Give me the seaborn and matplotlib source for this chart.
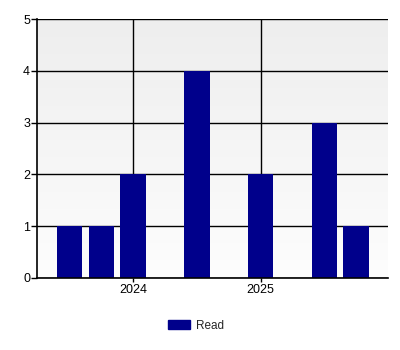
import matplotlib
matplotlib.use("Agg")
import matplotlib.pyplot as plt
import matplotlib.patches as mpatches
from matplotlib.colors import LinearSegmentedColormap
import numpy as np
import pandas as pd
import seaborn as sns

# Data (quarterly positions in fractional years)
periods = [2023.5, 2023.75, 2024.0, 2024.5, 2025.0, 2025.5, 2025.75]
read_counts = [1, 1, 2, 4, 2, 3, 1]
series_name = "Read"
x_ticks = [2024, 2025]
x_tick_labels = ["2024", "2025"]
y_ticks = [0, 1, 2, 3, 4, 5]

sns.set_theme(style="white")
plt.rcParams['font.family'] = ['Liberation Sans', 'DejaVu Sans']

df = pd.DataFrame({"period": periods, "count": read_counts})

fig = plt.figure(figsize=(4.0, 3.5), dpi=100)
ax = fig.add_axes([37/400, 1 - 278/350, (388-37)/400, (278-19)/350])

xlim = (2023.245, 2026.0)
ylim = (0, 5)

# gradient background
grad = np.linspace(0, 1, 256).reshape(-1, 1)
cmap = LinearSegmentedColormap.from_list("bg", ["#fdfdfd", "#eeeeee"])
ax.imshow(grad, extent=[xlim[0], xlim[1], ylim[0], ylim[1]], origin="lower",
          aspect="auto", cmap=cmap, zorder=0)

sns.barplot(data=df, x="period", y="count", native_scale=True, width=0.8,
            color="#00008B", saturation=1, ax=ax, zorder=3, errorbar=None,
            edgecolor="none", linewidth=0)

ax.set_xlim(*xlim)
ax.set_ylim(*ylim)
ax.set_xticks(x_ticks)
ax.set_xticklabels(x_tick_labels)
ax.set_yticks(y_ticks)
ax.set_xlabel("")
ax.set_ylabel("")

ax.grid(True, color="black", linewidth=1.0, zorder=1)
ax.set_axisbelow(True)
for s in ["top", "right"]:
    ax.spines[s].set_visible(False)
for s in ["left", "bottom"]:
    ax.spines[s].set_color("black")
    ax.spines[s].set_linewidth(1.2)
    ax.spines[s].set_zorder(5)

ax.tick_params(axis="y", which="both", left=True, length=4, width=1, color="black",
               labelsize=9, pad=1, labelcolor="black")
ax.tick_params(axis="x", which="both", bottom=True, length=3, width=1, color="black",
               labelsize=9, pad=1, labelcolor="black")

handle = mpatches.Patch(color="#00008B", label=series_name)
fig.legend(handles=[handle], loc="center", bbox_to_anchor=(196/400, 1 - 326/350),
           frameon=False, fontsize=8.5, handlelength=1.9, handleheight=0.8,
           handletextpad=0.5)

fig.savefig("out.png", dpi=100, facecolor="white")
